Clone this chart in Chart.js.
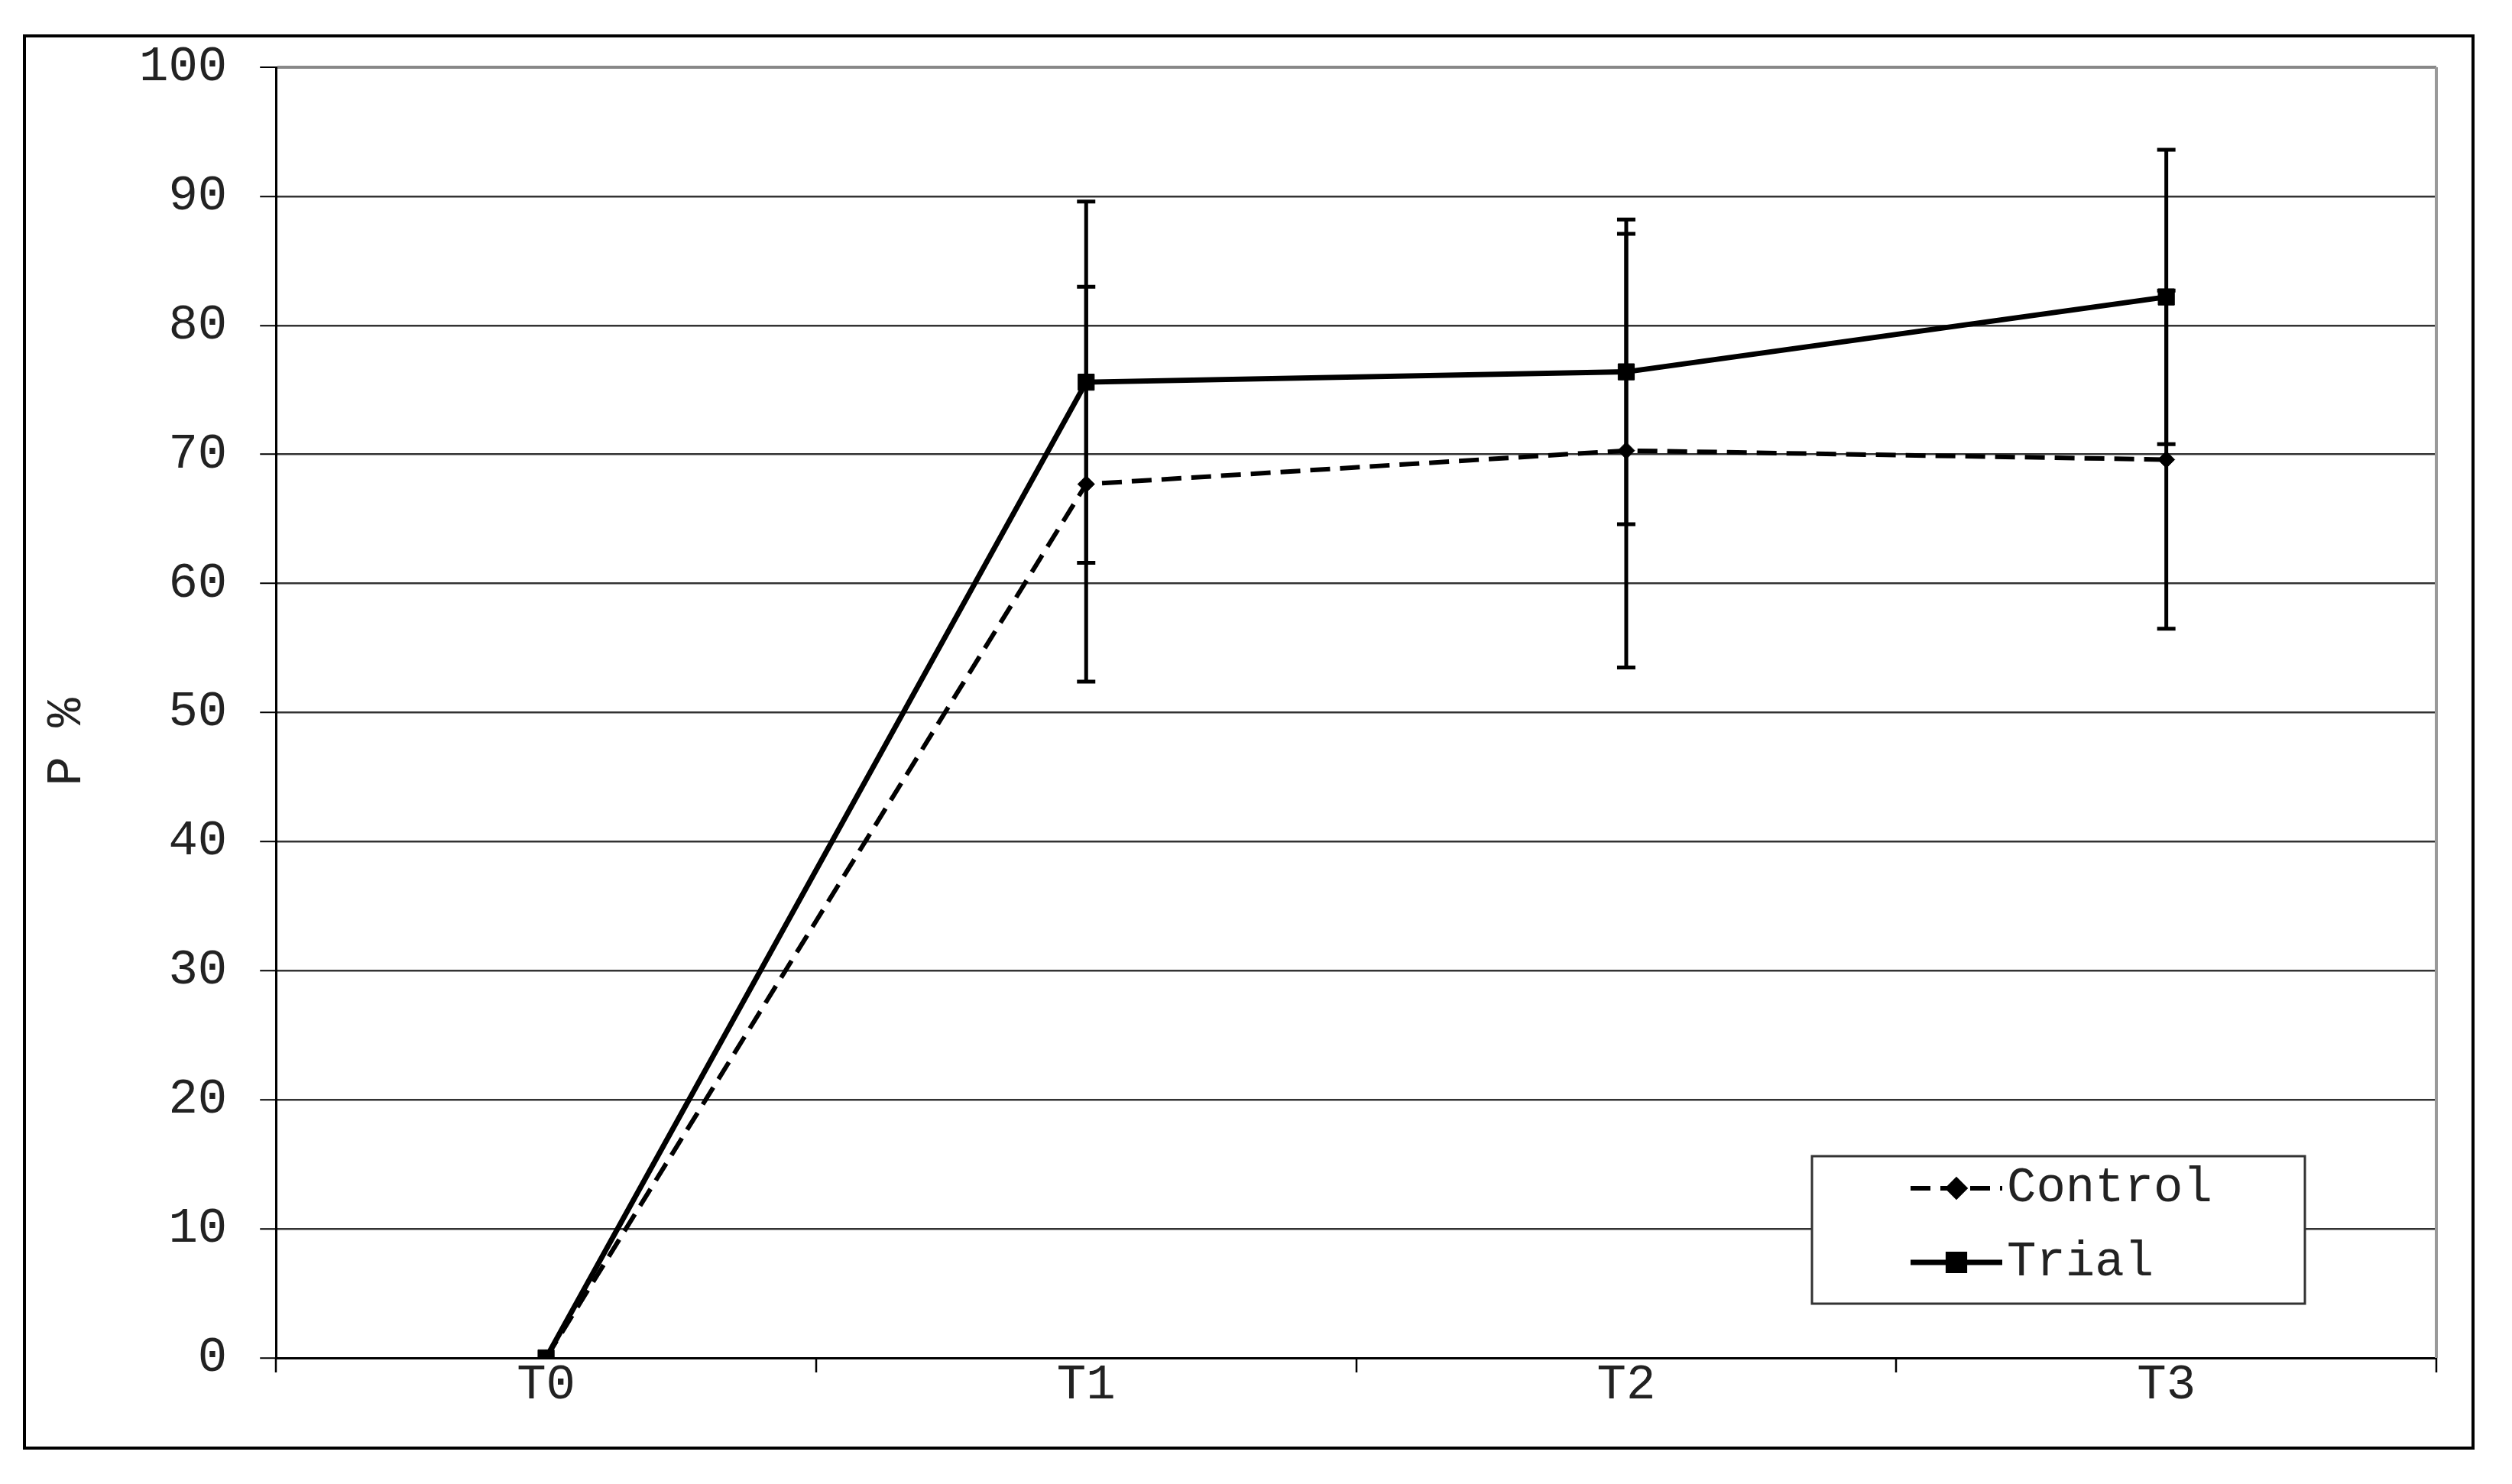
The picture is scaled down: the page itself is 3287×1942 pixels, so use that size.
<!DOCTYPE html>
<html>
<head>
<meta charset="utf-8">
<script src="https://cdn.jsdelivr.net/npm/chart.js@4.4.1/dist/chart.umd.min.js"></script>
<style>
  body { margin: 0; background: #fff; }
  #frame {
    position: absolute; left: 30px; top: 45px;
    width: 3208px; height: 1852px;
    box-sizing: border-box; border: 4px solid #000; background: #fff;
  }
</style>
</head>
<body>
<div id="frame"><canvas id="chart" width="3200" height="1844"></canvas></div>
<script>
const categories = ['T0', 'T1', 'T2', 'T3'];
const controlMean = [0, 67.7, 70.3, 69.6];
const controlSD = [0, 15.3, 16.8, 13.1];
const trialMean = [0, 75.6, 76.4, 82.2];
const trialSD = [0, 14.0, 11.8, 11.4];

const FONT = { family: '"Liberation Mono", "DejaVu Sans Mono", monospace', size: 64 };

// barras de erro (desvio padrão) desenhadas por cima das linhas
const errorBars = {
    id: 'errorBars',
    afterDatasetsDraw(chart) {
        const ctx = chart.ctx;
        const x = chart.scales.x, y = chart.scales.y;
        const sds = [controlSD, trialSD];
        ctx.save();
        ctx.strokeStyle = '#000';
        ctx.lineWidth = 5;
        chart.data.datasets.forEach((ds, i) => {
            ds.data.forEach((v, j) => {
                const e = sds[i][j];
                if (!e) return;
                const px = x.getPixelForValue(j);
                const top = y.getPixelForValue(v + e);
                const bot = y.getPixelForValue(v - e);
                ctx.beginPath();
                ctx.moveTo(px, top); ctx.lineTo(px, bot);
                ctx.moveTo(px - 12, top); ctx.lineTo(px + 12, top);
                ctx.moveTo(px - 12, bot); ctx.lineTo(px + 12, bot);
                ctx.stroke();
            });
        });
        ctx.restore();
    }
};

// borda direita, marcas do eixo x entre categorias e legenda dentro da área
const frameAndLegend = {
    id: 'frameAndLegend',
    afterDraw(chart) {
        const ctx = chart.ctx;
        const a = chart.chartArea;
        const x = chart.scales.x;
        ctx.save();
        ctx.strokeStyle = '#999';
        ctx.lineWidth = 4;
        ctx.beginPath();
        ctx.moveTo(a.right, a.top);
        ctx.lineTo(a.right, a.bottom);
        ctx.stroke();

        ctx.strokeStyle = '#000';
        ctx.lineWidth = 2.5;
        ctx.beginPath();
        for (let j = 0; j <= categories.length; j++) {
            const px = Math.round(x.getPixelForValue(j - 0.5));
            ctx.moveTo(px, a.bottom);
            ctx.lineTo(px, a.bottom + 19);
        }
        ctx.stroke();

        const bx = 2337, by = 1464, bw = 645, bh = 193;
        ctx.fillStyle = '#fff';
        ctx.fillRect(bx, by, bw, bh);
        ctx.strokeStyle = '#333';
        ctx.lineWidth = 3;
        ctx.strokeRect(bx, by, bw, bh);

        const rows = [1506, 1603];
        chart.data.datasets.forEach((ds, i) => {
            const ry = rows[i];
            ctx.strokeStyle = '#000';
            ctx.lineWidth = ds.borderWidth;
            ctx.setLineDash(ds.borderDash || []);
            ctx.beginPath();
            ctx.moveTo(2466, ry); ctx.lineTo(2586, ry);
            ctx.stroke();
            ctx.setLineDash([]);
            Chart.helpers.drawPoint(ctx, {
                pointStyle: ds.pointStyle, radius: ds.pointRadius,
                borderWidth: 1
            }, 2526, ry);
            ctx.fillStyle = '#000';
            ctx.fill();
            ctx.fillStyle = '#222';
            ctx.font = FONT.size + 'px ' + FONT.family;
            ctx.textAlign = 'left';
            ctx.textBaseline = 'middle';
            ctx.fillText(ds.label, 2592, ry);
        });
        ctx.restore();
    }
};

// sem folga automática: a área do gráfico fica onde o padding manda
const noOverflow = s => {
    s.paddingTop = 0; s.paddingBottom = 0;
    s.paddingLeft = 0; s.paddingRight = 0;
};

new Chart(document.getElementById('chart'), {
    type: 'line',
    data: {
        labels: categories,
        datasets: [{
            label: 'Control',
            data: controlMean,
            borderColor: '#000',
            backgroundColor: '#000',
            borderWidth: 6,
            borderDash: [26, 13],
            pointStyle: 'rectRot',
            pointRadius: 11,
            pointBorderWidth: 1,
            tension: 0
        }, {
            label: 'Trial',
            data: trialMean,
            borderColor: '#000',
            backgroundColor: '#000',
            borderWidth: 7,
            pointStyle: 'rect',
            pointRadius: 15,
            pointBorderWidth: 1,
            tension: 0
        }]
    },
    options: {
        responsive: false,
        animation: false,
        layout: {
            autoPadding: false,
            padding: { left: 15.6, top: 39, right: 46, bottom: 44 }
        },
        plugins: {
            legend: { display: false },
            tooltip: { enabled: false }
        },
        scales: {
            x: {
                offset: true,
                afterFit: noOverflow,
                border: { display: true, color: '#000', width: 3 },
                grid: { display: false, drawTicks: false },
                ticks: { color: '#222', font: FONT, padding: -2.4 }
            },
            y: {
                min: 0,
                max: 100,
                afterFit: noOverflow,
                border: { display: true, color: '#000', width: 3 },
                grid: {
                    color: ctx => ctx.tick && ctx.tick.value === 100 ? '#888' : '#333',
                    lineWidth: ctx => ctx.tick && ctx.tick.value === 100 ? 4 : 2.5,
                    tickLength: 21,
                    tickColor: '#000',
                    tickWidth: 2
                },
                ticks: { stepSize: 10, color: '#222', font: FONT, padding: 43 },
                title: {
                    display: true,
                    text: 'P %  ',
                    color: '#222',
                    font: FONT,
                    padding: { top: 0, bottom: 12.6 }
                }
            }
        }
    },
    plugins: [errorBars, frameAndLegend]
});
</script>
</body>
</html>
